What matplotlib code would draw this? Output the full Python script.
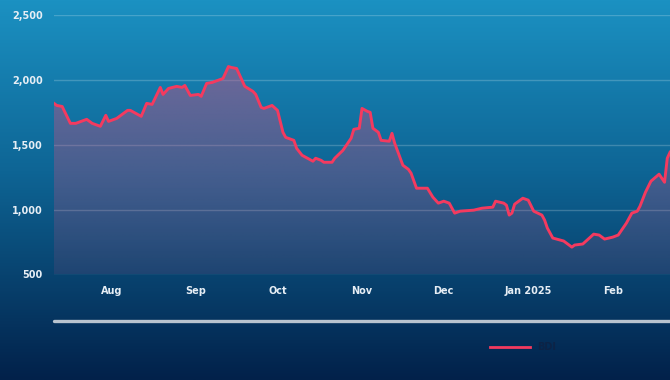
import matplotlib
matplotlib.use("Agg")
import matplotlib.pyplot as plt
import matplotlib.dates as mdates
from matplotlib.colors import LinearSegmentedColormap
from matplotlib.lines import Line2D
import numpy as np
import pandas as pd

# ---------------- data ----------------
dates = [
    "2024-07-11", "2024-07-12", "2024-07-14", "2024-07-17", "2024-07-19", "2024-07-23",
    "2024-07-25", "2024-07-28", "2024-07-30", "2024-07-31", "2024-08-03", "2024-08-07",
    "2024-08-08", "2024-08-12", "2024-08-14", "2024-08-16", "2024-08-19", "2024-08-20",
    "2024-08-22", "2024-08-25", "2024-08-27", "2024-08-28", "2024-08-30", "2024-09-02",
    "2024-09-03", "2024-09-05", "2024-09-07", "2024-09-10", "2024-09-11", "2024-09-13",
    "2024-09-14", "2024-09-16", "2024-09-19", "2024-09-22", "2024-09-23", "2024-09-25",
    "2024-09-26", "2024-09-29", "2024-10-01", "2024-10-03", "2024-10-04", "2024-10-07",
    "2024-10-08", "2024-10-10", "2024-10-12", "2024-10-14", "2024-10-15", "2024-10-17",
    "2024-10-18", "2024-10-21", "2024-10-22", "2024-10-25", "2024-10-27", "2024-10-28",
    "2024-10-29", "2024-10-31", "2024-11-01", "2024-11-03", "2024-11-04", "2024-11-05",
    "2024-11-07", "2024-11-08", "2024-11-11", "2024-11-12", "2024-11-13", "2024-11-16",
    "2024-11-18", "2024-11-19", "2024-11-21", "2024-11-22", "2024-11-25", "2024-11-27",
    "2024-11-29", "2024-12-01", "2024-12-03", "2024-12-05", "2024-12-07", "2024-12-12",
    "2024-12-15", "2024-12-19", "2024-12-20", "2024-12-23", "2024-12-24", "2024-12-25",
    "2024-12-26", "2024-12-27", "2024-12-30", "2025-01-01", "2025-01-03", "2025-01-06",
    "2025-01-07", "2025-01-08", "2025-01-10", "2025-01-14", "2025-01-17", "2025-01-18",
    "2025-01-21", "2025-01-25", "2025-01-27", "2025-01-29", "2025-02-01", "2025-02-03",
    "2025-02-06", "2025-02-08", "2025-02-10", "2025-02-11", "2025-02-13", "2025-02-15",
    "2025-02-18", "2025-02-20", "2025-02-21", "2025-02-22",
]
bdi = [
    1819, 1803, 1795, 1665, 1665, 1696,
    1665, 1642, 1727, 1680, 1703, 1765,
    1765, 1719, 1819, 1811, 1942, 1888,
    1934, 1950, 1942, 1957, 1880, 1888,
    1873, 1973, 1980, 2003, 2011, 2103,
    2096, 2088, 1950, 1911, 1888, 1788,
    1780, 1803, 1765, 1596, 1557, 1534,
    1473, 1419, 1396, 1373, 1396, 1380,
    1365, 1365, 1396, 1457, 1519, 1550,
    1619, 1627, 1780, 1757, 1750, 1627,
    1596, 1534, 1527, 1588, 1511, 1342,
    1311, 1281, 1165, 1165, 1165, 1096,
    1050, 1065, 1050, 973, 988, 996,
    1011, 1019, 1065, 1050, 1034, 958,
    973, 1042, 1088, 1073, 988, 958,
    919, 858, 781, 758, 711, 727,
    735, 811, 804, 773, 788, 804,
    896, 973, 988, 1027, 1134, 1219,
    1273, 1211, 1396, 1442,
]
y_ticks = [500, 1000, 1500, 2000, 2500]
month_ticks = ["2024-08-01", "2024-09-01", "2024-10-01", "2024-11-01",
               "2024-12-01", "2025-01-01", "2025-02-01"]
month_labels = ["Aug", "Sep", "Oct", "Nov", "Dec", "Jan 2025", "Feb"]
series_name = "BDI"

# ---------------- figure ----------------
W, H = 670, 380
plt.rcParams['font.family'] = ['DejaVu Sans']
fig = plt.figure(figsize=(W / 100, H / 100), dpi=100)

# background gradient
bg = fig.add_axes([0, 0, 1, 1], zorder=-10)
bg_cmap = LinearSegmentedColormap.from_list(
    "bg", [(0.0, "#1b91c2"), (0.45, "#0e6595"), (1.0, "#02214a")])
bg.imshow(np.linspace(0, 1, 256)[:, None], cmap=bg_cmap, aspect="auto",
          extent=[0, 1, 0, 1], origin="upper")
bg.set_axis_off()

x_dates = pd.to_datetime(dates)
xn = mdates.date2num(x_dates)
x0 = mdates.date2num(pd.Timestamp("2024-07-11"))
x1 = mdates.date2num(pd.Timestamp("2025-02-22"))

left, right = 54 / W, 1.0
bottom, top = 1 - 274.5 / H, 1 - 15 / H
ax = fig.add_axes([left, bottom, right - left, top - bottom])
ax.patch.set_alpha(0)
for s in ax.spines.values():
    s.set_visible(False)

for t in y_ticks:
    ax.axhline(t, color="white", alpha=0.2, lw=1.0, zorder=1)

# gradient fill under the line
poly = ax.fill_between(xn, bdi, 500, facecolor="none", edgecolor="none")
ny = 256
rgba = np.zeros((ny, 2, 4))
rgba[..., 0] = 200 / 255
rgba[..., 1] = 80 / 255
rgba[..., 2] = 130 / 255
rgba[..., 3] = np.linspace(0.12, 0.5, ny)[:, None]
img = ax.imshow(rgba, extent=[x0, x1, 500, 2120], aspect="auto",
                origin="lower", zorder=2)
img.set_clip_path(poly.get_paths()[0], transform=ax.transData)

ax.plot(xn, bdi, color="#f43a5f", lw=2.1, zorder=3, solid_joinstyle="round")

ax.set_xlim(x0, x1)
ax.set_ylim(500, 2500)
ax.set_yticks(y_ticks)
ax.set_yticklabels([f"{v:,}" for v in y_ticks])
ax.set_xticks(mdates.date2num(pd.to_datetime(month_ticks)))
ax.set_xticklabels(month_labels)
ax.tick_params(axis="both", length=0, labelsize=7, labelcolor="#e6eef5")
ax.tick_params(axis="y", pad=8)
ax.tick_params(axis="x", pad=8.5)
for lab in ax.get_xticklabels() + ax.get_yticklabels():
    lab.set_fontweight("bold")

# scrollbar-like line
fig.add_artist(Line2D([54 / W, 1.0], [1 - 321 / H] * 2, transform=fig.transFigure,
                      color="#b9c4cf", lw=2.4, solid_capstyle="round"))

# legend
fig.add_artist(Line2D([490 / W, 530 / W], [1 - 347 / H] * 2, transform=fig.transFigure,
                      color="#f43a5f", lw=2.0))
fig.text(537 / W, 1 - 347 / H, series_name, color="#0c2346", fontsize=7,
         fontweight="bold", va="center", ha="left")

fig.savefig("out.png", dpi=100)
